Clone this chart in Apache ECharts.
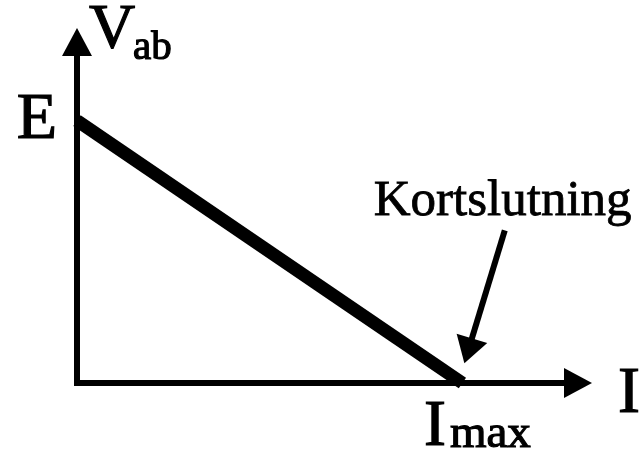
<!DOCTYPE html>
<html>
<head>
<meta charset="utf-8">
<title>Kortslutning</title>
<script src="https://cdn.jsdelivr.net/npm/echarts@6/dist/echarts.min.js"></script>
<style>
  html, body { margin: 0; padding: 0; background: #fff; }
  #main { width: 642px; height: 449px; }
</style>
</head>
<body>
<div id="main"></div>
<script>
// data: terminal voltage falls linearly from E (I = 0) to 0 (I = Imax)
var currentPts = [0, 1];        // I, in units of Imax
var voltagePts = [1, 0];        // Vab, in units of E
var yTickLabels = { 1: 'E' };
var xTickLabels = { 1: '{i|I}{m|max}' };
// annotation arrow, from the text down to the short circuit point
// (the end point is the centre of the arrow head)
var noteFrom = [1.11, 0.582];
var noteTo = [1.015, 0.123];
var noteText = 'Kortslutning';

var font = '"Liberation Serif", "Times New Roman", serif';
// the reference glyphs are a bit heavier than plain Liberation Serif
var ink = { color: '#000', textBorderColor: '#000', textBorderWidth: 1.2, fontFamily: font };
function txt(o) { return Object.assign({}, ink, o); }

var chart = echarts.init(document.getElementById('main'));

var axisLine = {
  show: true,
  symbol: ['none', 'triangle'],
  symbolSize: [30, 28],
  lineStyle: { color: '#000', width: 6, cap: 'square' }
};

chart.setOption({
  animation: false,
  grid: { left: 77, right: 64, top: 42, bottom: 66, outerBoundsMode: 'none', containLabel: false },
  xAxis: {
    type: 'value', min: 0, max: 1.3, interval: 1,
    axisLine: axisLine,
    axisTick: { show: false },
    splitLine: { show: false },
    axisLabel: {
      showMaxLabel: false,
      margin: 12,
      formatter: function (v) { return xTickLabels[v] || ''; },
      rich: {
        i: txt({ fontSize: 66, verticalAlign: 'bottom' }),
        m: txt({ fontSize: 47, verticalAlign: 'bottom', padding: [0, 0, 3, 4] })
      },
      padding: [0, 0, 0, 30]
    },
    name: '{n|I}',
    nameLocation: 'end',
    nameGap: 40,
    nameTextStyle: {
      rich: { n: txt({ fontSize: 66, verticalAlign: 'bottom', padding: [24, 0, 0, 0] }) }
    }
  },
  yAxis: {
    type: 'value', min: 0, max: 1.3, interval: 1,
    axisLine: axisLine,
    axisTick: { show: false },
    splitLine: { show: false },
    axisLabel: txt({
      showMaxLabel: false,
      margin: 20,
      fontSize: 66,
      formatter: function (v) { return yTickLabels[v] || ''; }
    }),
    name: '{v|V}{s|ab}',
    nameLocation: 'end',
    nameGap: -27,
    nameTextStyle: {
      align: 'left',
      padding: [0, 0, 0, 12],
      rich: {
        v: txt({ fontSize: 64, width: 44, verticalAlign: 'bottom', padding: [0, 0, 6, 0] }),
        s: txt({ fontSize: 41, verticalAlign: 'bottom' })
      }
    }
  },
  series: [{
    type: 'line',
    data: currentPts.map(function (x, i) { return [x, voltagePts[i]]; }),
    symbol: 'none',
    lineStyle: { color: '#000', width: 13 },
    silent: true,
    markLine: {
      silent: true,
      symbol: ['none', 'triangle'],
      symbolSize: [32, 26],
      label: { show: false },
      lineStyle: { color: '#000', width: 6, type: 'solid' },
      data: [[{ coord: noteFrom }, { coord: noteTo }]]
    }
  }]
});

var anchor = chart.convertToPixel({ gridIndex: 0 }, noteFrom);
chart.setOption({
  graphic: [{
    type: 'text',
    x: anchor[0] - 131,
    y: anchor[1] - 29,
    style: {
      text: noteText,
      font: '51px ' + font,
      fill: '#000',
      stroke: '#000',
      lineWidth: 0.8,
      verticalAlign: 'middle'
    }
  }]
});
</script>
</body>
</html>
